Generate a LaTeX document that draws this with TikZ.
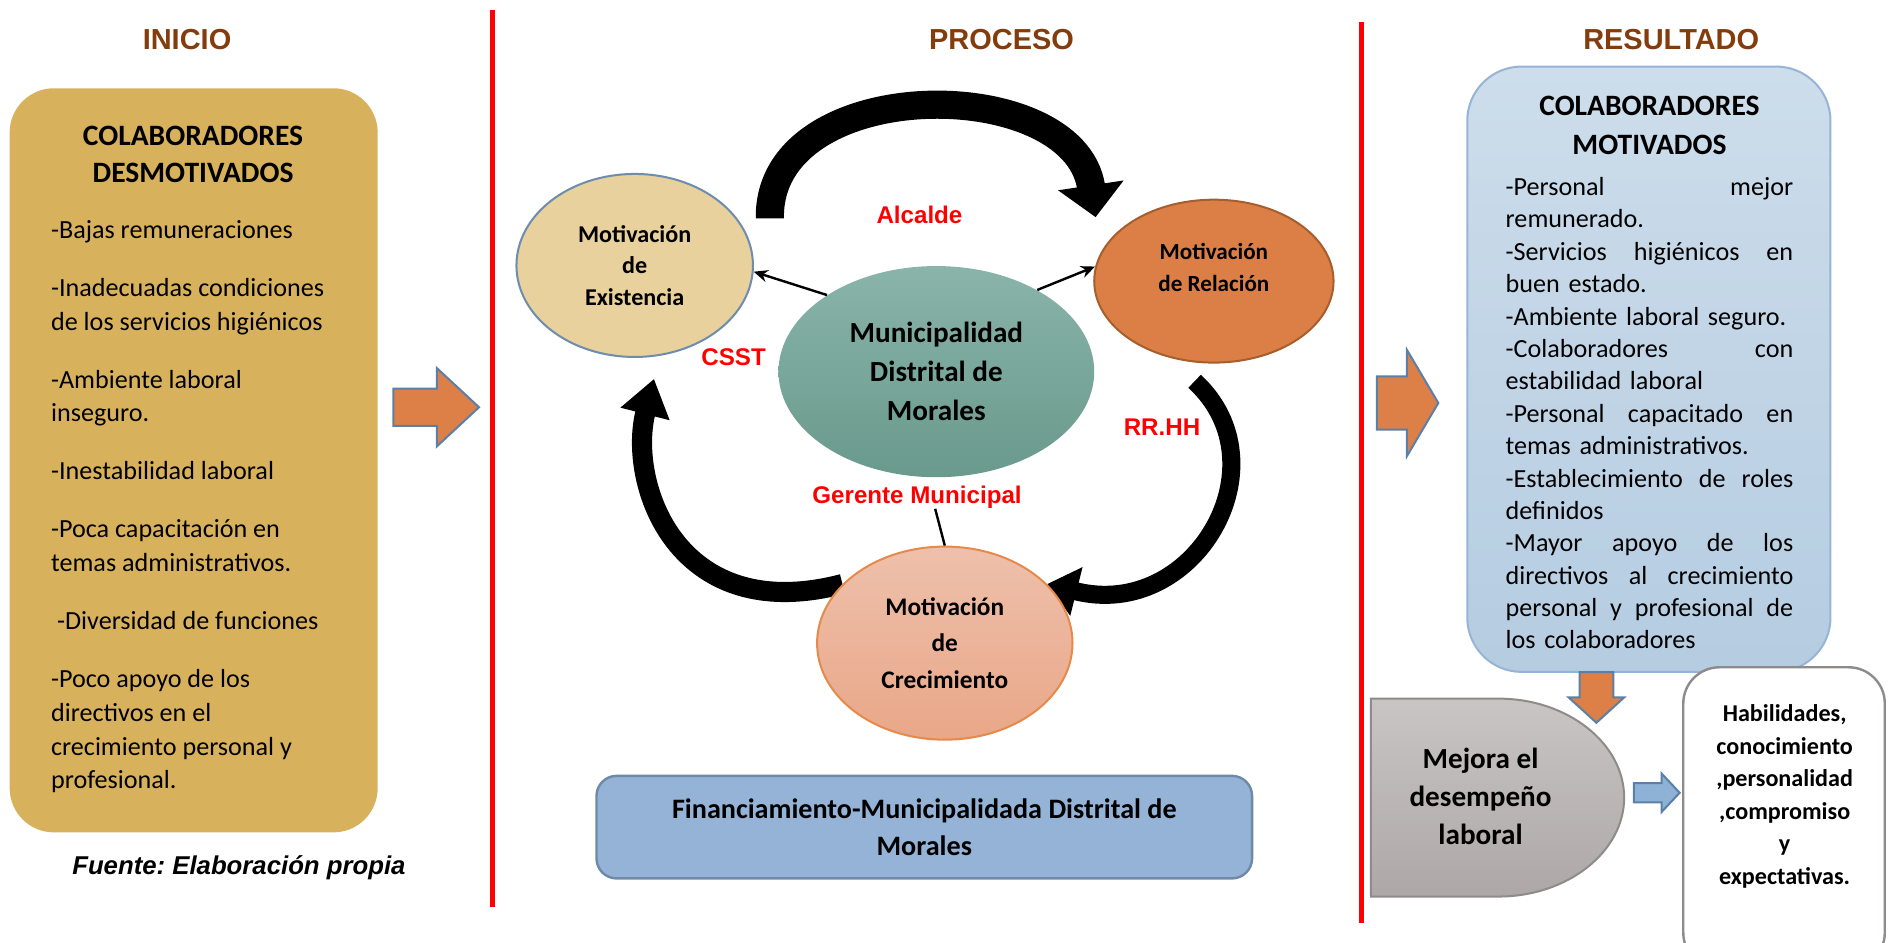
\documentclass[tikz,border=0pt]{standalone}
\usepackage{fontspec}
\setmainfont{Carlito}
\newfontfamily\arialfont{Liberation Sans}
\usetikzlibrary{arrows.meta, shapes.geometric, backgrounds}

\definecolor{titlebrown}{HTML}{843C0C}
\definecolor{goldbox}{HTML}{D8B15D}
\definecolor{exifill}{HTML}{E8D19C}
\definecolor{exiedge}{HTML}{6E8CAD}
\definecolor{relfill}{HTML}{DC7F46}
\definecolor{reledge}{HTML}{A65E2D}
\definecolor{muntop}{HTML}{8AB4A9}
\definecolor{munbottom}{HTML}{699A8C}
\definecolor{cretop}{HTML}{EEC0AB}
\definecolor{crebottom}{HTML}{E9A788}
\definecolor{creedge}{HTML}{E58A4A}
\definecolor{finfill}{HTML}{95B3D7}
\definecolor{finedge}{HTML}{6F8AA6}
\definecolor{restop}{HTML}{CDDDEB}
\definecolor{resbottom}{HTML}{B5CCE1}
\definecolor{resedge}{HTML}{96B5D6}
\definecolor{arroworange}{HTML}{DD8047}
\definecolor{arrowedge}{HTML}{5B7FA6}
\definecolor{mejtop}{HTML}{C9C5C4}
\definecolor{mejbottom}{HTML}{ADA8A7}
\definecolor{greyedge}{HTML}{8F8B8A}
\definecolor{arrowblue}{HTML}{8EB2D5}

% Justified line of the result list.
\newcommand{\jline}[1]{\makebox[143pt][l]{#1}}

\begin{document}
\begin{tikzpicture}[x=0.6pt, y=-0.6pt, every node/.style={inner sep=0pt},
    title/.style={font=\arialfont\bfseries\fontsize{14.4}{17}\selectfont, text=titlebrown},
    role/.style={font=\arialfont\bfseries\fontsize{12}{14}\selectfont, text=red},
    motiv/.style={ellipse, line width=1pt, align=center, font=\bfseries\fontsize{12}{15.6}\selectfont},
    thinarrow/.style={line width=1.2pt, -{Stealth[length=7pt, width=6pt]}},
    blockarrow/.style={line width=1pt, draw=arrowedge, fill=arroworange},
    divider/.style={line width=2.4pt, red}]
    \useasboundingbox (0,0) rectangle (1568,781);
    \clip (0,0) rectangle (1568,781);

    % Titles.
    \node[title] (Ini) at (155,33) {INICIO};
    \node[title] (Pro) at (830,33) {PROCESO};
    \node[title] (Res) at (1385,33) {RESULTADO};

    % Dividers.
    \draw[divider] (408,8) -- (408,752);
    \draw[divider] (1128,18) -- (1128,765);

    % Start.
    \node[fill=goldbox, rounded corners=22pt, minimum width=183pt, minimum height=370pt] (Des) at (160.5,381.5) {};
    \node[font=\bfseries\fontsize{14.7}{18}\selectfont, align=center] (DesT) at (160,128) {COLABORADORES\\DESMOTIVADOS};
    \node[anchor=west, align=left, font=\fontsize{13}{16.8}\selectfont] (DesL) at (42,420) {-Bajas remuneraciones\\[12pt]
        -Inadecuadas condiciones\\de los servicios higiénicos\\[12pt]
        -Ambiente laboral\\inseguro.\\[12pt]
        -Inestabilidad laboral\\[12pt]
        -Poca capacitación en\\temas administrativos.\\[12pt]
        \hspace*{3pt}-Diversidad de funciones\\[12pt]
        -Poco apoyo de los\\directivos en el\\crecimiento personal y\\profesional.};
    \node[font=\arialfont\bfseries\itshape\frenchspacing\fontsize{12.8}{15}\selectfont] (Fue) at (198,719) {Fuente: Elaboración propia};
    \draw[blockarrow] (326,322) -- (362,322) -- (362,305) -- (397,337.5) -- (362,370) -- (362,353) -- (326,353) -- cycle;

    % Process.
    \node[motiv, fill=exifill, draw=exiedge, minimum width=117.6pt, minimum height=91pt] (Exi) at (526,220) {Motivación\\de\\Existencia};
    \node[motiv, fill=relfill, draw=reledge, minimum width=119pt, minimum height=81pt, font=\bfseries\fontsize{11.5}{16}\selectfont] (Rel) at (1006,233) {Motivación\\de Relación\\[-2pt]~};
    \node[ellipse, top color=muntop, bottom color=munbottom, minimum width=157pt, minimum height=105pt, align=center, font=\bfseries\fontsize{14.5}{19.5}\selectfont] (Mun) at (776,308) {Municipalidad\\Distrital de\\Morales};
    \node[motiv, top color=cretop, bottom color=crebottom, draw=creedge, minimum width=127pt, minimum height=96pt, font=\bfseries\fontsize{12.6}{18}\selectfont] (Cre) at (783,533) {Motivación\\de\\Crecimiento};

    \coordinate (topTail) at (638,181);
    \coordinate (topTip) at (908,180);
    \coordinate (leftTip) at (542,314);
    \coordinate (rightTail) at (990,316);
    \begin{scope}[on background layer]
        \draw[line width=14pt, -{Triangle[length=16pt, width=32pt]}] (topTail) .. controls (636,60) and (890,60) .. (topTip);
        \draw[line width=10pt, -{Triangle[length=18pt, width=24pt]}] (Cre.150) .. controls (560,520) and (520,400) .. (leftTip);
        \draw[line width=9pt, -{Triangle[length=15pt, width=24pt]}] (rightTail) .. controls (1065,385) and (990,515) .. (Cre.30);
    \end{scope}

    \node[role] (Alc) at (762,178) {Alcalde};
    \node[role] (Css) at (608,296) {CSST};
    \node[role] (Rrh) at (963,354) {RR.HH};
    \node[role] (Ger) at (760,412) {Gerente Municipal};

    \draw[thinarrow] (Mun.145) -- (Exi.-3);
    \draw[thinarrow] (Mun.39) -- (Rel.173);
    \draw[line width=1.2pt] ([xshift=9pt]Ger.south) -- (Cre.north);

    \node[fill=finfill, draw=finedge, line width=1.2pt, rounded corners=10pt, minimum width=326pt, minimum height=51pt, align=center, font=\bfseries\fontsize{14}{18.6}\selectfont] (Fin) at (766,685.5) {Financiamiento-Municipalidada Distrital de\\Morales};

    % Result.
    \draw[blockarrow] (1141,312) -- (1166,312) -- (1166,290) -- (1192,334) -- (1166,378) -- (1166,356) -- (1141,356) -- cycle;
    \node[draw=resedge, line width=1pt, top color=restop, bottom color=resbottom, rounded corners=27pt, minimum width=180.6pt, minimum height=301pt] (Mot) at (1366.5,306) {};
    \node[font=\bfseries\fontsize{14.7}{19}\selectfont, align=center] (MotT) at (1367,104) {COLABORADORES\\MOTIVADOS};
    \node[align=left, text width=143pt, font=\fontsize{13}{16.1}\selectfont] (MotL) at (1367,342.5) {\jline{-Personal\hfill mejor}\\
        remunerado.\\
        \jline{-Servicios\hfill higiénicos\hfill en}\\
        buen estado.\\
        -Ambiente laboral seguro.\\
        \jline{-Colaboradores\hfill con}\\
        estabilidad laboral\\
        \jline{-Personal\hfill capacitado\hfill en}\\
        temas administrativos.\\
        \jline{-Establecimiento\hfill de\hfill roles}\\
        definidos\\
        \jline{-Mayor\hfill apoyo\hfill de\hfill los}\\
        \jline{directivos\hfill al\hfill crecimiento}\\
        \jline{personal\hfill y\hfill profesional\hfill de}\\
        los colaboradores};

    \shade[draw=greyedge, line width=1pt, top color=mejtop, bottom color=mejbottom] (1136,579) -- (1242,579) .. controls (1299,579) and (1346,616) .. (1346,661) .. controls (1346,706) and (1299,743) .. (1242,743) -- (1136,743) -- cycle;
    \node[align=center, font=\bfseries\fontsize{14.5}{19}\selectfont] (Mej) at (1227,660) {Mejora el\\desempeño\\laboral};
    \draw[blockarrow] (1309,557) -- (1309,578) -- (1300,578) -- (1323,599) -- (1346,578) -- (1337,578) -- (1337,557) -- cycle;

    \node[draw=greyedge, line width=1.2pt, fill=white, rounded corners=18pt, minimum width=100.2pt, minimum height=150pt] (Hab) at (1478.5,678) {};
    \node[align=center, font=\bfseries\fontsize{12}{16.2}\selectfont] (HabT) at (1479,660) {Habilidades,\\conocimiento\\,personalidad\\,compromiso\\y\\expectativas.};
    \draw[blockarrow, fill=arrowblue] (1354,649) -- (1377,649) -- (1377,641) -- (1392,657) -- (1377,673) -- (1377,665) -- (1354,665) -- cycle;
\end{tikzpicture}
\end{document}
